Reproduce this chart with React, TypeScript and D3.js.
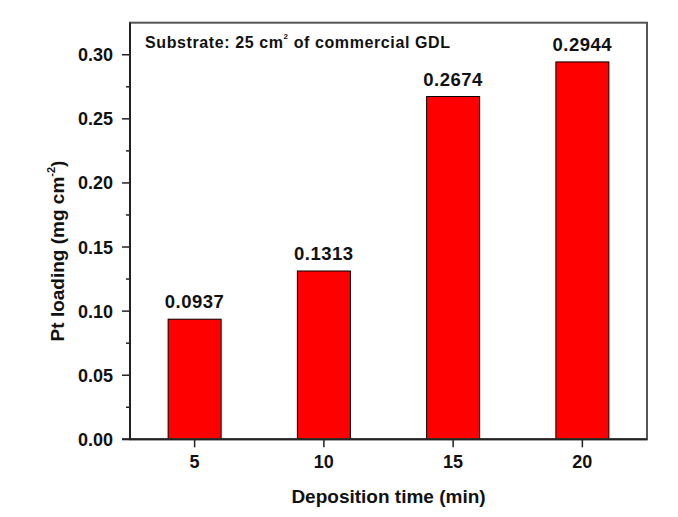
import React from "react";
import * as d3 from "d3";

const categories = ["5", "10", "15", "20"];
const loadings = [0.0937, 0.1313, 0.2674, 0.2944];
const valueLabels = ["0.0937", "0.1313", "0.2674", "0.2944"];
const yMajorTicks = [0, 0.05, 0.1, 0.15, 0.2, 0.25, 0.3];
const yMinorTicks = [0.025, 0.075, 0.125, 0.175, 0.225, 0.275];

const W = 678;
const H = 517;
const left = 130;
const right = 647;
const top = 22.7;
const bottom = 439.3;
const FONT = "'Liberation Sans', Arial, sans-serif";

export default function App() {
  const x = d3.scaleBand().domain(categories).range([left, right]).paddingInner(0.59).paddingOuter(0.295);
  const y = d3.scaleLinear().domain([0, 0.325]).range([bottom, top]);
  const bw = x.bandwidth();

  return (
    <svg width={W} height={H} style={{ position: "absolute", left: 0, top: 0, background: "#fff" }}>
      {/* bars */}
      {categories.map((c, i) => (
        <rect
          key={c}
          x={x(c)!}
          y={y(loadings[i])}
          width={bw}
          height={bottom - y(loadings[i])}
          fill="#ff0000"
          stroke="#000"
          strokeWidth={1}
        />
      ))}
      {/* value labels */}
      {categories.map((c, i) => (
        <text
          key={"v" + c}
          x={x(c)! + bw / 2}
          y={y(loadings[i]) - 11}
          textAnchor="middle"
          fontFamily={FONT}
          fontWeight="bold"
          fontSize={18.5}
          letterSpacing={0.5}
          fill="#111"
        >
          {valueLabels[i]}
        </text>
      ))}
      {/* frame */}
      <rect x={left} y={top} width={right - left} height={bottom - top} fill="none" stroke="#555" strokeWidth={2} />
      <line x1={left} x2={left} y1={top} y2={bottom} stroke="#222" strokeWidth={2} />
      <line x1={left - 8} x2={right} y1={bottom} y2={bottom} stroke="#222" strokeWidth={2} />
      {/* y ticks */}
      {yMajorTicks.map((t) => (
        <g key={"yt" + t}>
          <line x1={left - 8} x2={left} y1={y(t)} y2={y(t)} stroke="#222" strokeWidth={1.5} />
          <text
            x={left - 17}
            y={y(t) + 6.5}
            textAnchor="end"
            fontFamily={FONT}
            fontWeight="bold"
            fontSize={18}
            fill="#111"
          >
            {d3.format(".2f")(t)}
          </text>
        </g>
      ))}
      {yMinorTicks.map((t) => (
        <line key={"ym" + t} x1={left - 4} x2={left} y1={y(t)} y2={y(t)} stroke="#222" strokeWidth={1.5} />
      ))}
      {/* x ticks */}
      {categories.map((c) => (
        <g key={"xt" + c}>
          <line x1={x(c)! + bw / 2} x2={x(c)! + bw / 2} y1={bottom} y2={bottom + 8} stroke="#222" strokeWidth={1.5} />
          <text
            x={x(c)! + bw / 2}
            y={468}
            textAnchor="middle"
            fontFamily={FONT}
            fontWeight="bold"
            fontSize={18}
            fill="#111"
          >
            {c}
          </text>
        </g>
      ))}
      {/* axis titles */}
      <text
        x={(left + right) / 2}
        y={503}
        textAnchor="middle"
        fontFamily={FONT}
        fontWeight="bold"
        fontSize={19}
        fill="#111"
      >
        Deposition time (min)
      </text>
      <text
        transform={`translate(64, ${251}) rotate(-90)`}
        textAnchor="middle"
        fontFamily={FONT}
        fontWeight="bold"
        fontSize={19}
        fill="#111"
      >
        Pt loading (mg cm
        <tspan fontSize={11} dy={-9}>-2</tspan>
        <tspan dy={9}>)</tspan>
      </text>
      {/* annotation */}
      <text x={145} y={48} fontFamily={FONT} fontWeight="bold" fontSize={16} letterSpacing={0.6} fill="#111">
        Substrate: 25 cm
        <tspan fontSize={8} dy={-9}>2</tspan>
        <tspan dy={9}> of commercial GDL</tspan>
      </text>
    </svg>
  );
}
